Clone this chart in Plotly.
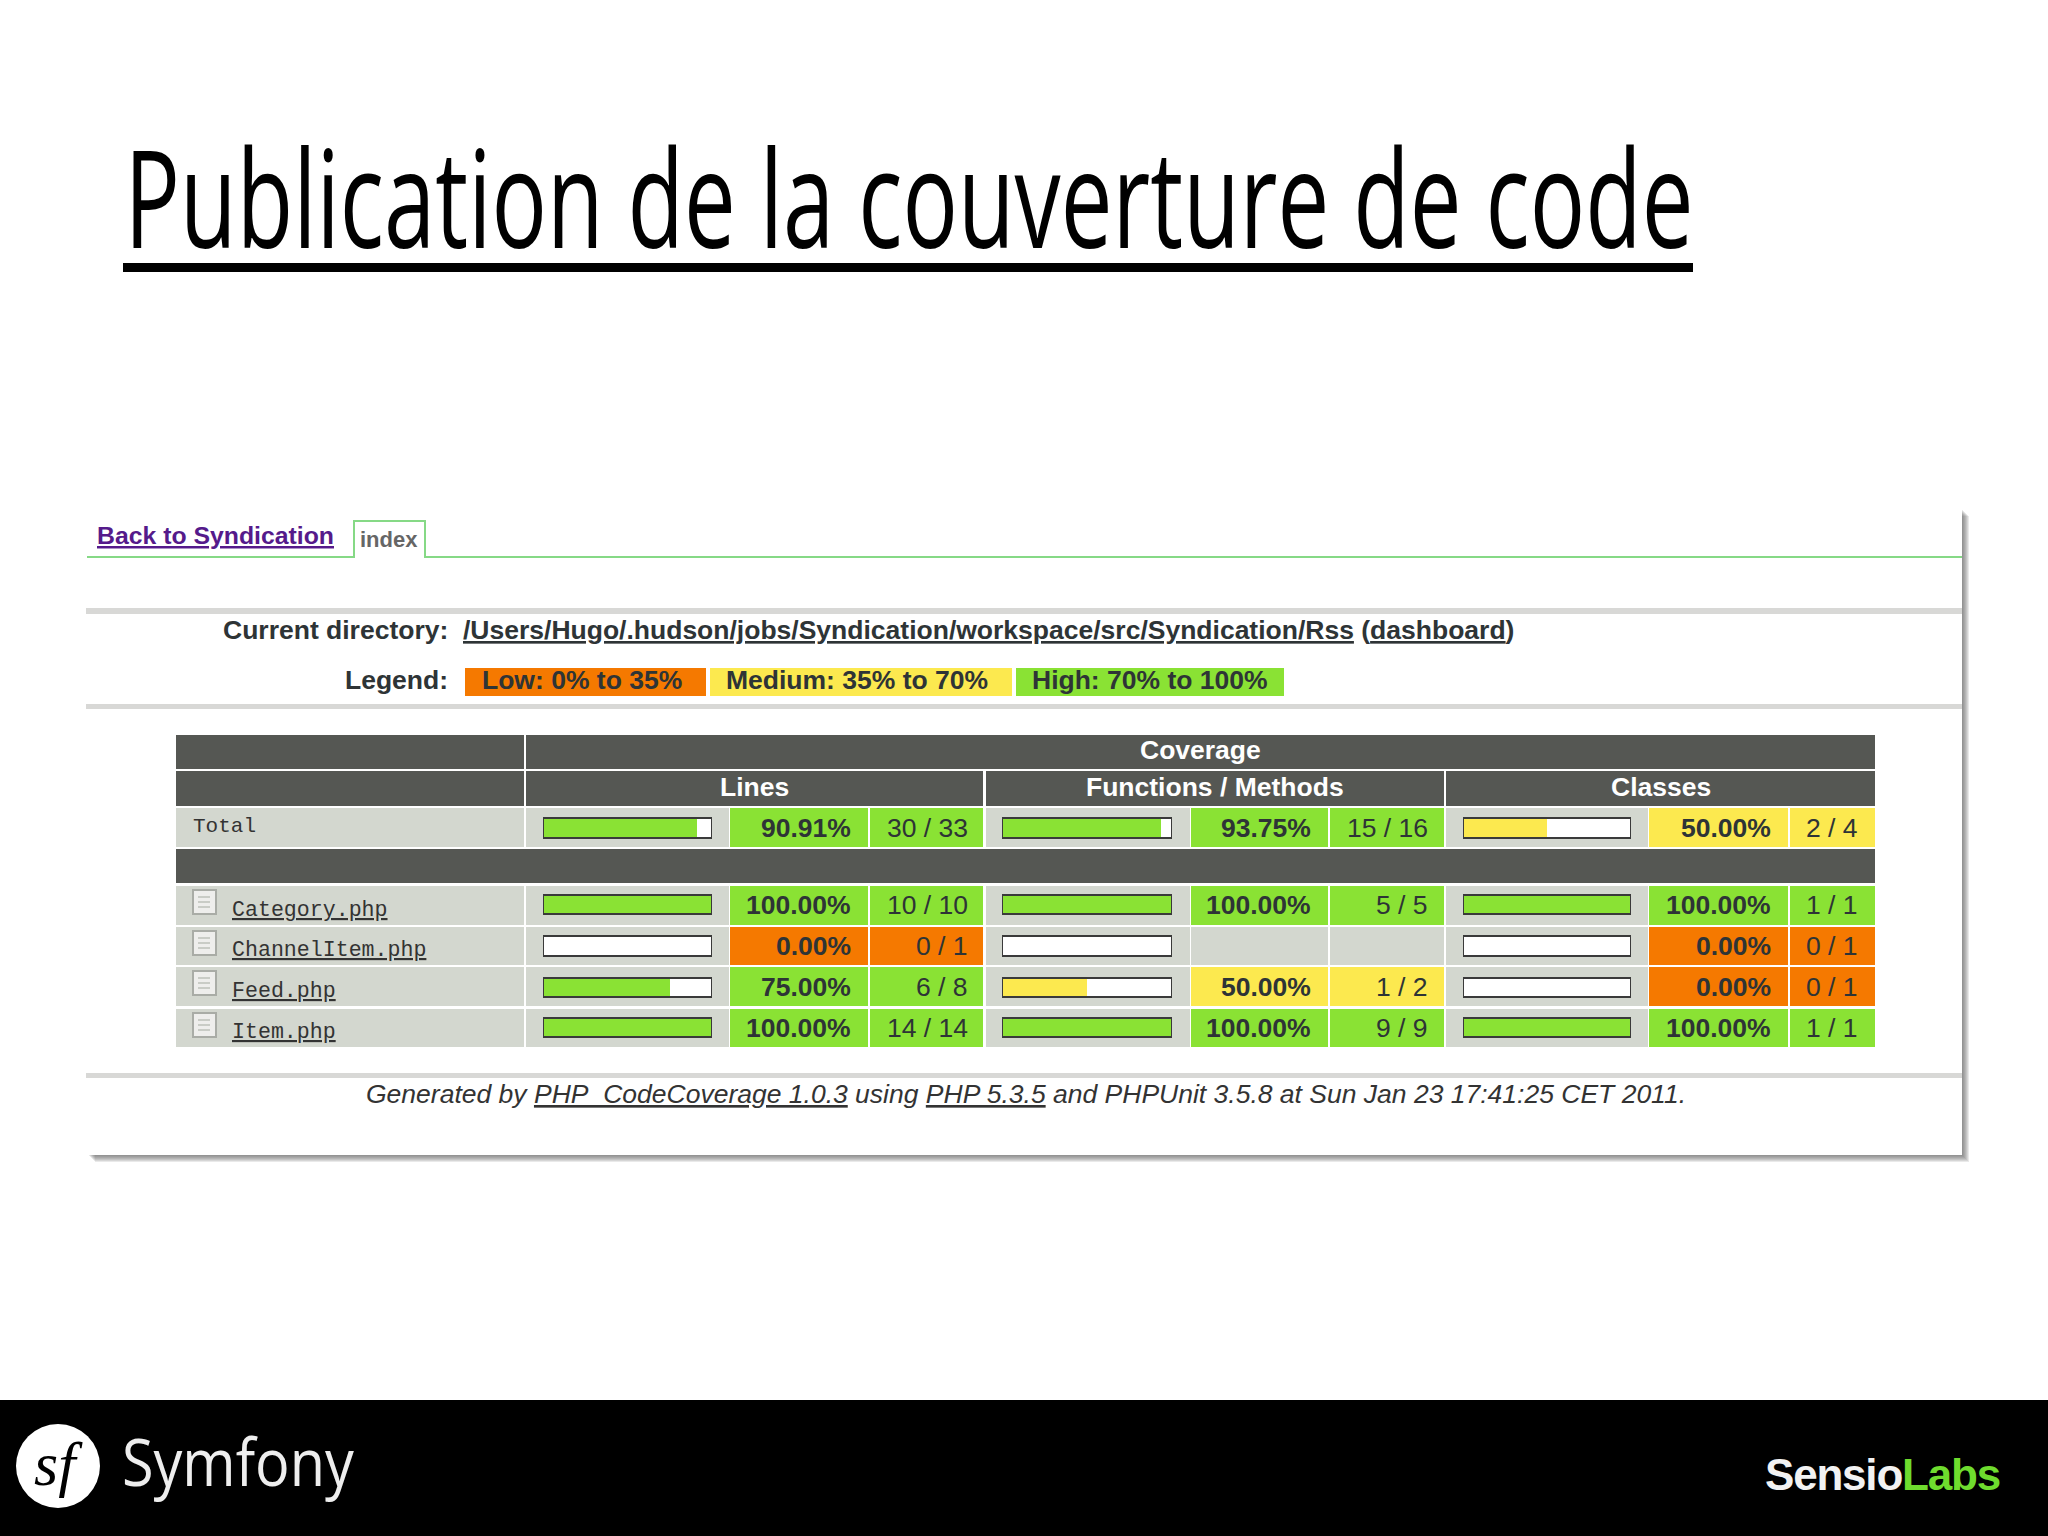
import plotly.graph_objects as go

# report contents
row_names = ["Total", "Category.php", "ChannelItem.php", "Feed.php", "Item.php"]
lines_pct = [90.91, 100.00, 0.00, 75.00, 100.00]
lines_count = ["30 / 33", "10 / 10", "0 / 1", "6 / 8", "14 / 14"]
methods_pct = [93.75, 100.00, None, 50.00, 100.00]
methods_count = ["15 / 16", "5 / 5", "", "1 / 2", "9 / 9"]
classes_pct = [50.00, 100.00, 0.00, 0.00, 100.00]
classes_count = ["2 / 4", "1 / 1", "0 / 1", "0 / 1", "1 / 1"]
group_names = ["Lines", "Functions / Methods", "Classes"]
legend_names = ["Low: 0% to 35%", "Medium: 35% to 70%", "High: 70% to 100%"]

ORANGE = "#f57900"
YELLOW = "#fce94f"
GREEN = "#8ae234"
DARK = "#555753"
CELL = "#d3d7cf"
RULE = "#d8d8d6"
INK = "#2e3436"

# page layout, in pixels of the 2048x1536 page
row_y = [(808, 847), (886, 925), (927, 965), (967, 1006), (1009, 1047)]
bar_y = [(818, 838), (895, 914), (936, 956), (978, 997), (1018, 1037)]
text_base = [837, 914, 955, 996, 1037]
name_base = [834, 917, 957, 998, 1039]
# bar cell, percent cell, count cell, bar itself, right edges of the numbers
columns = [
    dict(bar=(526, 729), pct=(730, 868), cnt=(870, 983), track=(543, 712), pct_r=851, cnt_r=968),
    dict(bar=(986, 1190), pct=(1191, 1328), cnt=(1330, 1444), track=(1002, 1172), pct_r=1311, cnt_r=1428),
    dict(bar=(1446, 1648), pct=(1649, 1788), cnt=(1790, 1875), track=(1463, 1631), pct_r=1771, cnt_r=1858),
]
series = [(lines_pct, lines_count), (methods_pct, methods_count), (classes_pct, classes_count)]


def level_color(pct):
    if pct is None:
        return CELL
    if pct < 35:
        return ORANGE
    if pct < 70:
        return YELLOW
    return GREEN


fig = go.Figure()
shapes = []
notes = []


def rect(x0, y0, x1, y1, color, opacity=1, line=None, layer="below"):
    shapes.append(dict(type="rect", xref="x", yref="y", x0=x0, y0=y0, x1=x1, y1=y1,
                       fillcolor=color, opacity=opacity, layer=layer,
                       line=dict(width=line[1], color=line[0]) if line else dict(width=0)))


def label(x, base, text, size, color=INK, family="Liberation Sans", anchor="left", descent=0.21):
    notes.append(dict(x=x, y=base, xref="x", yref="y", text=text, showarrow=False,
                      xanchor=anchor, yanchor="bottom", yshift=-descent * size, borderpad=0, borderwidth=0,
                      font=dict(family=family, size=size, color=color)))


# slide title and footer, both condensed by the squeeze script at the end
label(908.5, 248, "Publication de la couverture de code", 110, "#000000", "Open Sans", anchor="center", descent=0.293)
rect(123, 263, 1693, 272, "#000000")
rect(0, 1400, 2048, 1536, "#000000")
shapes.append(dict(type="circle", xref="x", yref="y", x0=16, y0=1424, x1=100, y1=1508,
                   fillcolor="#ffffff", line=dict(width=0), layer="below"))
label(58, 1485, "<i>sf</i>", 62, "#000000", "Liberation Serif", anchor="center")
label(237.5, 1486, "Symfony", 65, "#eeeeee", "Open Sans", anchor="center", descent=0.293)
label(1765, 1490, '<b><span style="letter-spacing:-1.2px">Sensio</span>'
      '<span style="letter-spacing:-1.2px;fill:#6fdc2e">Labs</span></b>', 44, "#f2f2f2")

# screenshot card with its drop shadow
for off in range(7, 0, -1):
    rect(88 + off, 509 + off, 1962 + off, 1155 + off, "#555555", 0.13)
rect(86, 509, 1962, 1155, "#ffffff")

# tabs
for seg in [(87, 556, 353, 558), (425, 556, 1962, 558), (353, 520, 355, 558), (424, 520, 426, 558), (353, 520, 426, 522)]:
    rect(*seg, "#86d986")
label(97, 544, "<b><u>Back to Syndication</u></b>", 24.8, "#551a8b")
label(360, 547, "<b>index</b>", 22, "#666666")

# header block
rect(86, 608, 1962, 614, RULE)
rect(86, 704, 1962, 709, RULE)
label(448, 639, "<b>Current directory:</b>", 26.5, anchor="right")
label(463, 639, "<b><u>/Users/Hugo/.hudson/jobs/Syndication/workspace/src/Syndication/Rss</u> (<u>dashboard</u>)</b>", 26.5)
label(448, 689, "<b>Legend:</b>", 26.5, anchor="right")
legend_boxes = [(465, 706), (710, 1012), (1016, 1284)]
legend_text = [482, 726, 1032]
for name, box, tx, color in zip(legend_names, legend_boxes, legend_text, [ORANGE, YELLOW, GREEN]):
    rect(box[0], 668, box[1], 696, color)
    label(tx, 689, f"<b>{name}</b>", 26.5)

# table headers
rect(176, 735, 524, 769, DARK)
rect(526, 735, 1875, 769, DARK)
label(1200, 759, "<b>Coverage</b>", 26.5, "#ffffff", anchor="center")
rect(176, 771, 524, 806, DARK)
for name, col in zip(group_names, columns):
    rect(col["bar"][0], 771, col["cnt"][1], 806, DARK)
    label((col["bar"][0] + col["cnt"][1]) / 2, 796, f"<b>{name}</b>", 26.5, "#ffffff", anchor="center")
rect(176, 849, 1875, 883, DARK)

# table rows
for i, name in enumerate(row_names):
    y0, y1 = row_y[i]
    rect(176, y0, 524, y1, CELL)
    if i == 0:
        label(193, name_base[i], name, 21, "#333333", "Liberation Mono")
    else:
        label(232, name_base[i], f"<u>{name}</u>", 21.6, "#333333", "Liberation Mono")
        # little file icon
        rect(193, y0 + 4, 216, y0 + 28, "#eeeeec", line=("#a9aca6", 2))
        for k in range(3):
            rect(198, y0 + 10 + k * 5, 210, y0 + 12 + k * 5, "#c9ccc6")
    for col, (pcts, counts) in zip(columns, series):
        color = level_color(pcts[i])
        rect(col["bar"][0], y0, col["bar"][1], y1, CELL)
        rect(col["pct"][0], y0, col["pct"][1], y1, color)
        rect(col["cnt"][0], y0, col["cnt"][1], y1, color)
        if pcts[i] is not None:
            label(col["pct_r"], text_base[i], f"<b>{pcts[i]:.2f}%</b>", 26.5, anchor="right")
            label(col["cnt_r"], text_base[i], counts[i], 26.5, anchor="right")

# footer of the screenshot
rect(86, 1073, 1962, 1078, RULE)
label(366, 1103, "<i>Generated by <u>PHP_CodeCoverage 1.0.3</u> using <u>PHP 5.3.5</u> and PHPUnit 3.5.8 "
      "at Sun Jan 23 17:41:25 CET 2011.</i>", 26.5, "#333333")

# coverage bars, one 0-100 axis per column
row_center = [(a + b) / 2 for a, b in bar_y]
row_height = [b - a for a, b in bar_y]
for n, (col, (pcts, counts)) in enumerate(zip(columns, series)):
    axis = f"x{n + 2}"
    vals = [0 if p is None else p for p in pcts]
    fig.add_trace(go.Bar(x=[100] * len(vals), y=row_center, width=row_height, orientation="h",
                         xaxis=axis, yaxis="y", marker=dict(color="#ffffff", line=dict(width=0)),
                         showlegend=False, hoverinfo="skip"))
    fig.add_trace(go.Bar(x=vals, y=row_center, width=row_height, orientation="h",
                         xaxis=axis, yaxis="y", showlegend=False,
                         marker=dict(color=[level_color(p) for p in pcts], line=dict(width=0))))
    fig.add_trace(go.Bar(x=[100] * len(vals), y=row_center, width=row_height, orientation="h",
                         xaxis=axis, yaxis="y", showlegend=False, hoverinfo="skip", cliponaxis=False,
                         marker=dict(color="rgba(0,0,0,0)", line=dict(width=2, color="#3a3a3a"))))
    fig.layout[f"xaxis{n + 2}"] = dict(domain=[col["track"][0] / 2048, col["track"][1] / 2048], range=[0, 100],
                                       anchor="y", visible=False)

# invisible point so the page axes exist
fig.add_trace(go.Scatter(x=[0], y=[0], mode="markers", marker=dict(opacity=0), showlegend=False, hoverinfo="skip"))

fig.update_layout(
    width=2048, height=1536,
    margin=dict(l=0, r=0, t=0, b=0),
    paper_bgcolor="#ffffff", plot_bgcolor="rgba(0,0,0,0)",
    barmode="overlay", bargap=0,
    xaxis=dict(range=[0, 2048], visible=False, domain=[0, 1]),
    yaxis=dict(range=[1536, 0], visible=False, domain=[0, 1]),
    shapes=shapes, annotations=notes,
)

# the slide font is a condensed one, scale the two big labels around their baseline
squeeze = """
document.body.style.margin = '0';
var fit = {'Publication de la couverture de code': [1569, 1.227], 'Symfony': [232, 1]};
document.querySelectorAll('.annotation-text').forEach(function (t) {
  var f = fit[t.textContent];
  if (f) {
    var cx = parseFloat(t.getAttribute('x')), by = parseFloat(t.getAttribute('y'));
    var sx = f[0] / t.getComputedTextLength();
    t.setAttribute('transform', 'translate(' + cx + ',' + by + ') scale(' + sx + ',' + f[1] + ') translate(' + (-cx) + ',' + (-by) + ')');
  }
});
"""
fig.write_html("out.html", post_script=squeeze, config={"displayModeBar": False})
